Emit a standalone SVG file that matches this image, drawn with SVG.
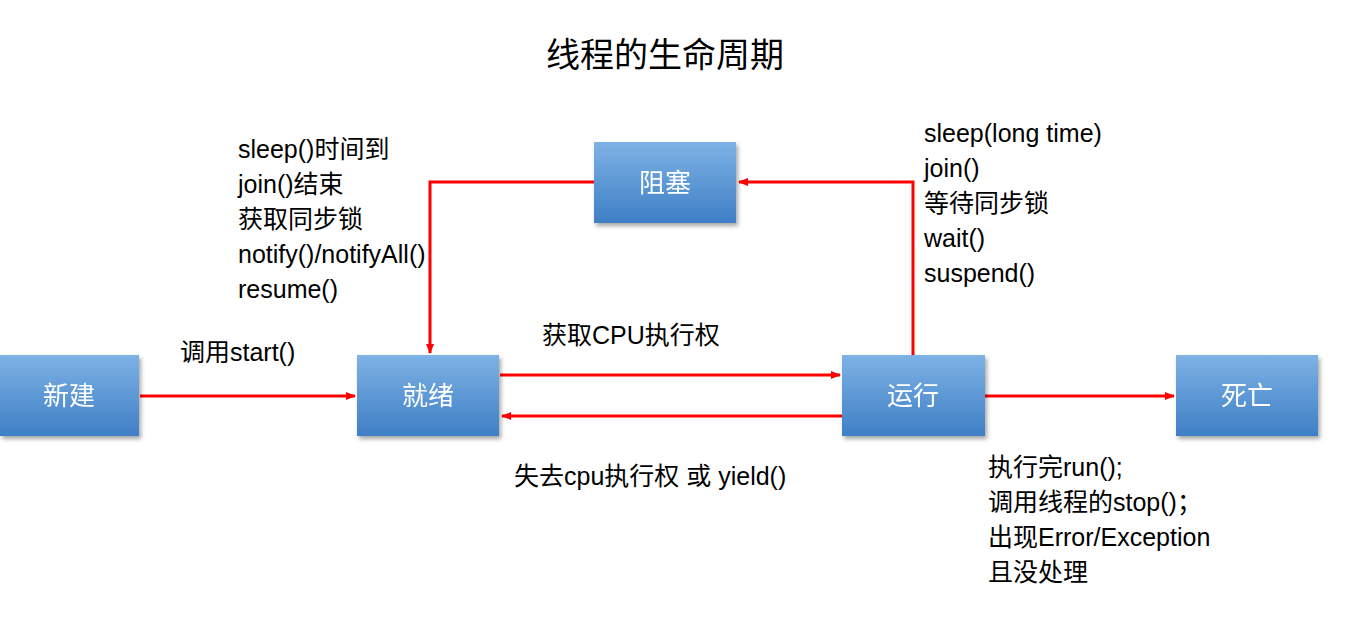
<svg xmlns="http://www.w3.org/2000/svg" width="1355" height="618" viewBox="0 0 1355 618">
<style>
.t{font-family:"Liberation Sans","Noto Sans CJK SC",sans-serif;font-size:25px;fill:#000}
.n{font-family:"Liberation Sans","Noto Sans CJK SC",sans-serif;font-size:26px;fill:#fff;text-anchor:middle;dominant-baseline:central}
.c{stroke:#f00;stroke-width:3;fill:none;marker-end:url(#a)}
</style>
<defs>
<linearGradient id="g" x1="0" y1="0" x2="0" y2="1"><stop offset="0" stop-color="#7db2e4"/><stop offset="1" stop-color="#3f7fc6"/></linearGradient>
<filter id="s" x="-10%" y="-10%" width="130%" height="130%"><feDropShadow dx="2" dy="3" stdDeviation="2" flood-color="#000" flood-opacity="0.35"/></filter>
<marker id="a" markerWidth="10" markerHeight="8" refX="9" refY="4" orient="auto" markerUnits="userSpaceOnUse"><path d="M0,0L10,4L0,8z" fill="#f00"/></marker>
</defs>
<rect width="1355" height="618" fill="#fff"/>
<text x="665" y="67" class="t" style="font-size:34px" text-anchor="middle">线程的生命周期</text>
<g id="connectors">
<path class="c" d="M140,396H355"/>
<path class="c" d="M500,375H840"/>
<path class="c" d="M842,416H502"/>
<path class="c" d="M985,396H1174"/>
<path class="c" d="M913,355V182H739"/>
<path class="c" d="M594,182H430V353"/>
</g>
<g id="n1" filter="url(#s)"><rect x="0" y="355" width="139" height="81" fill="url(#g)"/><text class="n" x="69" y="396">新建</text></g>
<g id="n2" filter="url(#s)"><rect x="357" y="355" width="142" height="81" fill="url(#g)"/><text class="n" x="428" y="396">就绪</text></g>
<g id="n3" filter="url(#s)"><rect x="594" y="142" width="142" height="81" fill="url(#g)"/><text class="n" x="665" y="183">阻塞</text></g>
<g id="n4" filter="url(#s)"><rect x="842" y="355" width="143" height="81" fill="url(#g)"/><text class="n" x="913" y="396">运行</text></g>
<g id="n5" filter="url(#s)"><rect x="1176" y="355" width="142" height="81" fill="url(#g)"/><text class="n" x="1247" y="396">死亡</text></g>
<g class="t">
<text x="238" y="158">sleep()时间到</text>
<text x="238" y="193">join()结束</text>
<text x="238" y="228">获取同步锁</text>
<text x="238" y="263">notify()/notifyAll()</text>
<text x="238" y="298">resume()</text>
<text x="924" y="142">sleep(long time)</text>
<text x="924" y="177">join()</text>
<text x="924" y="212">等待同步锁</text>
<text x="924" y="247">wait()</text>
<text x="924" y="282">suspend()</text>
<text x="180" y="361">调用start()</text>
<text x="542" y="344">获取CPU执行权</text>
<text x="514" y="485">失去cpu执行权 或 yield()</text>
<text x="988" y="476">执行完run();</text>
<text x="988" y="511">调用线程的stop()；</text>
<text x="988" y="546">出现Error/Exception</text>
<text x="988" y="581">且没处理</text>
</g>
</svg>
